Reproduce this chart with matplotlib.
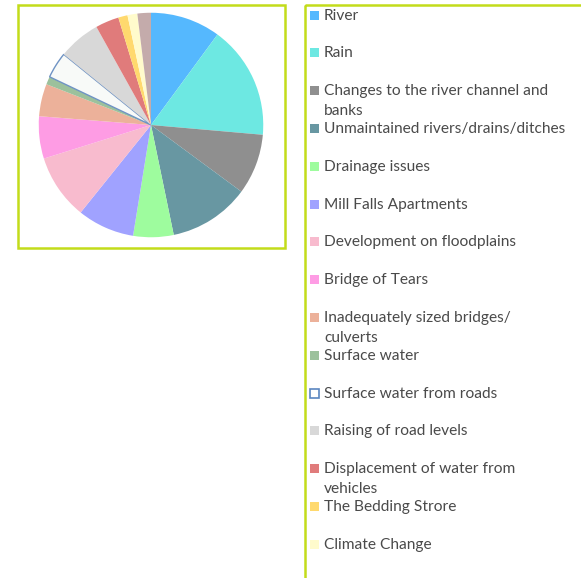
import matplotlib
matplotlib.use("Agg")
import matplotlib.pyplot as plt
from matplotlib.patches import Rectangle

# ---------------------------------------------------------------------------
# Data (slice sizes, in degrees of the pie)
# ---------------------------------------------------------------------------
labels = [
    "River",
    "Rain",
    "Changes to the river channel and\nbanks",
    "Unmaintained rivers/drains/ditches",
    "Drainage issues",
    "Mill Falls Apartments",
    "Development on floodplains",
    "Bridge of Tears",
    "Inadequately sized bridges/\nculverts",
    "Surface water",
    "Surface water from roads",
    "Raising of road levels",
    "Displacement of water from\nvehicles",
    "The Bedding Strore",
    "Climate Change",
    "Other",
]
values = [36.3, 58.7, 31.4, 41.9, 20.9, 29.6, 33.8, 21.9, 16.8, 4.1, 13.6,
          21.9, 12.2, 4.8, 5.1, 7.0]
colors = ["#55b8fe", "#6de8e2", "#8f8f8f", "#6897a2", "#9efc9e", "#a0a2ff",
          "#f8bbce", "#fe9ce4", "#ecb19a", "#9cc19c", "#f8faf8", "#d8d8d8",
          "#e07b7b", "#ffd96e", "#fffbcc", "#c4abab"]

W, H = 581, 578
BORDER = "#c3dc1a"
TEXT = "#4a4a4a"

fig = plt.figure(figsize=(W / 100, H / 100), dpi=100)

# overlay in pixel coordinates for the boxes and the legend
bg = fig.add_axes([0, 0, 1, 1])
bg.set_xlim(0, W)
bg.set_ylim(H, 0)
bg.axis("off")
bg.add_patch(Rectangle((18, 5), 267, 243, fill=False, edgecolor=BORDER, linewidth=1.8))
bg.add_patch(Rectangle((305, 5), 300, 600, fill=False, edgecolor=BORDER, linewidth=1.8,
                       clip_on=False))

# pie
cx, cy, r = 151, 125, 114.5
ax = fig.add_axes([(cx - r) / W, (H - cy - r) / H, 2 * r / W, 2 * r / H])
wedges, _ = ax.pie(values, colors=colors, startangle=90, counterclock=False,
                   wedgeprops=dict(linewidth=0))
wedges[10].set_edgecolor("#6f93c4")
wedges[10].set_linewidth(1.0)
ax.set_xlim(-1.02, 1.02)
ax.set_ylim(-1.02, 1.02)
ax.set_aspect("equal")
ax.axis("off")

# legend (15 entries shown, last slice falls outside the box)
y0, step = 15, 37.8
for i in range(15):
    y = y0 + i * step
    if i == 10:
        bg.add_patch(Rectangle((310, y - 4.5), 9, 9, facecolor="white",
                               edgecolor="#5b86c0", linewidth=1.2))
    else:
        bg.add_patch(Rectangle((310, y - 4.5), 9, 9, facecolor=colors[i], edgecolor="none"))
    bg.text(324, y - 6.5, labels[i], fontsize=11.2, family="Lato", color=TEXT,
            va="top", ha="left", linespacing=1.55)

fig.savefig("out.png", dpi=100)
